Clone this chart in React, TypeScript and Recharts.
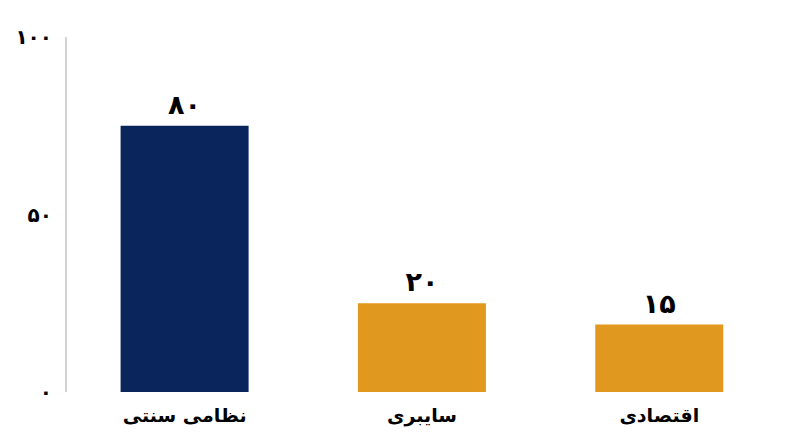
import React from "react";
import { BarChart, Bar, XAxis, YAxis, Cell, LabelList } from "recharts";

const categories = ["نظامی سنتی", "سایبری", "اقتصادی"];
const barValues = [75, 25, 19];
const valueLabels = ["۸۰", "۲۰", "۱۵"];
const barColors = ["#0A255B", "#E1981F", "#E1981F"];
const yTicks = [0, 50, 100];
const yTickLabels = ["۰", "۵۰", "۱۰۰"];

const data = categories.map((c, i) => ({ name: c, value: barValues[i], label: valueLabels[i] }));

const FONT = "'DejaVu Sans', sans-serif";

const ValueLabel = (props: any) => {
  const { x, y, width, index } = props;
  return (
    <text
      x={x + width / 2}
      y={y - 12}
      textAnchor="middle"
      fontFamily={FONT}
      fontWeight="bold"
      fontSize={27}
      fill="#000"
    >
      {valueLabels[index]}
    </text>
  );
};

export default function App() {
  return (
    <div style={{ position: "absolute", left: 0, top: 0, width: 800, height: 447, background: "#fff" }}>
      <BarChart
        width={800}
        height={447}
        data={data}
        margin={{ top: 37, right: 22, bottom: 0, left: 0 }}
        barCategoryGap="23%"
      >
        <XAxis
          dataKey="name"
          axisLine={false}
          tickLine={false}
          tickSize={0}
          tickMargin={17}
          height={55}
          interval={0}
          tick={{ fontFamily: FONT, fontWeight: "bold", fontSize: 19, fill: "#000" }}
        />
        <YAxis
          domain={[0, 100]}
          ticks={yTicks}
          width={66}
          axisLine={{ stroke: "#D3D3D3", strokeWidth: 2 }}
          tickLine={false}
          tickSize={0}
          tickMargin={14}
          tickFormatter={(v: number) => yTickLabels[yTicks.indexOf(v)]}
          tick={{ fontFamily: FONT, fontWeight: "bold", fontSize: 20, fill: "#000" }}
        />
        <Bar dataKey="value" isAnimationActive={false}>
          {data.map((d, i) => (
            <Cell key={d.name} fill={barColors[i]} />
          ))}
          <LabelList dataKey="label" content={ValueLabel} />
        </Bar>
      </BarChart>
    </div>
  );
}
